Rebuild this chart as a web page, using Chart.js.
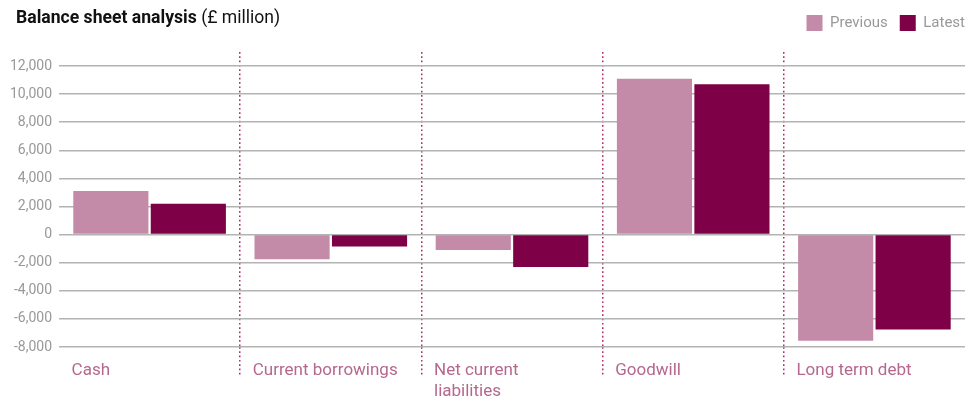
<!DOCTYPE html>
<html>
<head>
<meta charset="utf-8">
<script src="https://cdn.jsdelivr.net/npm/chart.js@4.4.0/dist/chart.umd.min.js"></script>
<style>
  html, body { margin: 0; padding: 0; background: #fff; }
  #wrap { position: relative; width: 965px; height: 396px; }
  #titulo {
    position: absolute; left: 16px; top: 7px;
    font-family: Roboto, "Liberation Sans", sans-serif;
    font-size: 17.6px; color: #111;
  }
  #titulo b { font-weight: 700; }
</style>
</head>
<body>
<div id="wrap">
  <canvas id="grafico" width="965" height="396"></canvas>
  <div id="titulo"><b>Balance sheet analysis</b> (£ million)</div>
</div>
<script>
// ============================
// Dados
// ============================
const categorias = ['Cash', 'Current borrowings', ['Net current', 'liabilities'], 'Goodwill', 'Long term debt'];
const valoresAnterior = [3100, -1750, -1100, 11100, -7550];
const valoresAtual = [2200, -850, -2300, 10700, -6750];
const nomesSeries = ['Previous', 'Latest'];
const ticksY = [-8000, -6000, -4000, -2000, 0, 2000, 4000, 6000, 8000, 10000, 12000];

// ============================
// Estilos
// ============================
const corAnterior = '#c38ba7';
const corAtual = '#7e0046';
const corDivisor = '#ab2f6c';
const corGrade = '#b3b3b3';
const corTexto = '#999999';
const corRotulo = '#b5678e';
const fonte = 'Roboto, "Liberation Sans", sans-serif';
const pontilhado = [1.7, 2.6];

// linhas pontilhadas só entre categorias (sem a primeira e a última)
function corDivisoria(ctx) {
  return (ctx.type === 'tick' && ctx.index > 0) ? corDivisor : 'transparent';
}

// legenda: mais espaço embaixo e encostada na borda direita
const ajusteLegenda = {
  id: 'ajusteLegenda',
  beforeInit(chart) {
    const fitOriginal = chart.legend.fit;
    chart.legend.fit = function () {
      fitOriginal.bind(chart.legend)();
      this.height += 11;
    };
  },
  afterLayout(chart) {
    chart.legend.left += 12;
    chart.legend.right += 12;
  }
};

const grafico = new Chart(document.getElementById('grafico'), {
  type: 'bar',
  data: {
    labels: categorias,
    datasets: [
      { label: nomesSeries[0], data: valoresAnterior, backgroundColor: corAnterior },
      { label: nomesSeries[1], data: valoresAtual, backgroundColor: corAtual }
    ]
  },
  plugins: [ajusteLegenda],
  options: {
    responsive: false,
    devicePixelRatio: 1,
    animation: false,
    layout: { padding: { top: 3, left: 0, right: 0, bottom: 0 }, autoPadding: false },
    datasets: {
      bar: { categoryPercentage: 0.855, barPercentage: 0.97 }
    },
    plugins: {
      tooltip: { enabled: false },
      legend: {
        position: 'top',
        align: 'end',
        labels: {
          boxWidth: 16,
          boxHeight: 16,
          padding: 12,
          color: corTexto,
          font: { family: fonte, size: 15 }
        }
      }
    },
    scales: {
      x: {
        grid: {
          offset: true,
          color: corDivisoria,
          tickColor: corDivisoria,
          lineWidth: 1.5,
          tickWidth: 1.5,
          tickLength: 28,
          tickBorderDash: pontilhado
        },
        border: { display: false, dash: pontilhado },
        ticks: {
          align: 'start',
          labelOffset: -78,
          padding: -14,
          maxRotation: 0,
          autoSkip: false,
          color: corRotulo,
          font: { family: fonte, size: 17, lineHeight: 1.2 }
        },
        afterFit: (scale) => {
          scale.paddingLeft = 0;
          scale.paddingRight = 0;
          scale.height = 49;
        }
      },
      y: {
        min: -8000,
        max: 13000,
        grid: { color: corGrade, lineWidth: 1.5, drawTicks: false },
        border: { display: false },
        ticks: {
          padding: 7,
          color: corTexto,
          font: { family: fonte, size: 14 },
          callback: (v) => v.toLocaleString('en-GB')
        },
        afterBuildTicks: (scale) => {
          scale.ticks = ticksY.map(v => ({ value: v }));
        },
        afterFit: (scale) => { scale.width = 59; }
      }
    }
  }
});
</script>
</body>
</html>
